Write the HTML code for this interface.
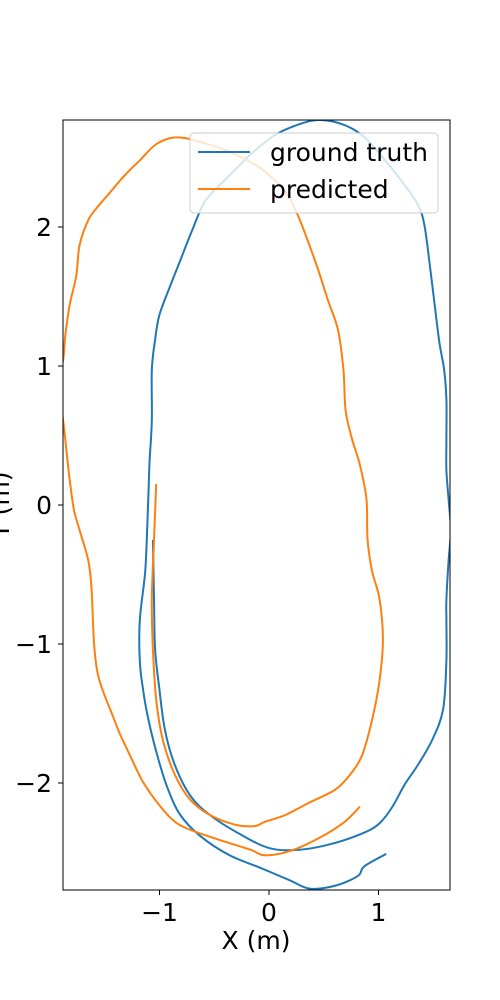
<!DOCTYPE html>
<html><head><meta charset="utf-8"><style>
html,body{margin:0;padding:0;background:#fff;}
svg{display:block;font-family:"DejaVu Sans","Liberation Sans",sans-serif;}
</style></head><body>
<svg id="chart" width="500" height="1000" viewBox="0 0 500 1000" xmlns="http://www.w3.org/2000/svg">
<defs><clipPath id="clip"><rect x="63" y="120" width="387" height="770"/></clipPath></defs>
<rect x="0" y="0" width="500" height="1000" fill="#fff"/>
<g id="series" clip-path="url(#clip)"></g>
<rect x="63" y="120" width="387" height="770" fill="none" stroke="#000" stroke-width="1"/>
<g id="axes"></g>
<text x="256" y="949" font-size="25" text-anchor="middle">X (m)</text>
<text x="0" y="0" font-size="25" text-anchor="middle" transform="translate(9,505) rotate(-90)">Y (m)</text>
<g>
<rect x="190" y="133" width="248" height="80" rx="4" fill="#fff" fill-opacity="0.8" stroke="#ccc"/>
<line x1="198" y1="152" x2="250" y2="152" stroke="#1f77b4" stroke-width="2"/>
<text x="270" y="161" font-size="25">ground truth</text>
<line x1="198" y1="189" x2="250" y2="189" stroke="#ff7f0e" stroke-width="2"/>
<text x="270" y="198" font-size="25">predicted</text>
</g>
</svg>
<script>
const gtX=[-1.06,-1.05,-1.04,-1.00,-0.95,-0.86,-0.72,-0.54,-0.26,0.01,0.28,0.56,0.83,0.995,1.12,1.24,1.36,1.49,1.59,1.62,1.62,1.62,1.64,1.66,1.64,1.62,1.62,1.62,1.60,1.56,1.53,1.48,1.42,1.36,1.24,1.06,0.88,0.70,0.47,0.28,0.05,-0.17,-0.40,-0.58,-0.70,-0.81,-0.90,-1.00,-1.04,-1.07,-1.07,-1.09,-1.10,-1.11,-1.13,-1.18,-1.18,-1.15,-1.10,-1.01,-0.92,-0.81,-0.63,-0.36,-0.08,0.19,0.37,0.60,0.81,0.87,1.07];
const gtY=[-0.25,-0.68,-1.04,-1.33,-1.62,-1.87,-2.09,-2.23,-2.37,-2.47,-2.48,-2.44,-2.37,-2.30,-2.18,-2.01,-1.87,-1.69,-1.47,-1.12,-0.83,-0.68,-0.40,-0.18,0.04,0.25,0.47,0.76,0.97,1.15,1.33,1.65,2.01,2.16,2.30,2.48,2.64,2.73,2.77,2.74,2.66,2.52,2.34,2.19,1.98,1.76,1.58,1.37,1.19,0.97,0.61,0.32,0.11,-0.11,-0.47,-0.83,-1.12,-1.33,-1.55,-1.83,-2.05,-2.23,-2.38,-2.52,-2.61,-2.70,-2.76,-2.74,-2.67,-2.60,-2.51];
const prX=[-1.03,-1.05,-1.07,-1.06,-1.03,-0.97,-0.86,-0.72,-0.54,-0.31,-0.13,-0.04,0.15,0.37,0.60,0.74,0.85,0.94,1.01,1.04,1.01,0.94,0.90,0.89,0.83,0.76,0.70,0.68,0.63,0.54,0.45,0.35,0.26,0.17,0.05,-0.13,-0.36,-0.58,-0.77,-0.90,-1.04,-1.18,-1.32,-1.45,-1.57,-1.65,-1.73,-1.76,-1.82,-1.86,-1.88,-1.93,-1.88,-1.84,-1.82,-1.78,-1.73,-1.65,-1.62,-1.60,-1.57,-1.52,-1.43,-1.36,-1.27,-1.16,-1.04,-0.90,-0.77,-0.49,-0.17,-0.04,0.19,0.47,0.69,0.83];
const prY=[0.15,-0.25,-0.68,-1.04,-1.40,-1.69,-1.94,-2.12,-2.23,-2.30,-2.31,-2.28,-2.23,-2.14,-2.05,-1.94,-1.80,-1.55,-1.26,-0.97,-0.68,-0.47,-0.25,0.04,0.29,0.47,0.68,0.97,1.26,1.47,1.69,1.91,2.09,2.23,2.34,2.45,2.54,2.60,2.64,2.64,2.59,2.48,2.37,2.25,2.14,2.05,1.87,1.65,1.44,1.22,1.04,0.90,0.61,0.32,0.18,-0.04,-0.18,-0.40,-0.61,-0.97,-1.19,-1.33,-1.51,-1.65,-1.80,-1.98,-2.12,-2.25,-2.32,-2.40,-2.48,-2.52,-2.49,-2.39,-2.28,-2.17];
const xTicks=[-1,0,1];
const yTicks=[-2,-1,0,1,2];
const xTickLabels=["\u22121","0","1"];
const yTickLabels=["\u22122","\u22121","0","1","2"];

const NS="http://www.w3.org/2000/svg";
function sx(v){return 269+v*109.5;}
function sy(v){return 505-v*139;}
function line(xs,ys,color,name){
  const P=xs.map((x,i)=>[sx(x),sy(ys[i])]);
  let d="M"+P[0][0].toFixed(1)+","+P[0][1].toFixed(1);
  for(let i=0;i<P.length-1;i++){
    const p0=P[Math.max(i-1,0)],p1=P[i],p2=P[i+1],p3=P[Math.min(i+2,P.length-1)];
    const c1=[p1[0]+(p2[0]-p0[0])/6,p1[1]+(p2[1]-p0[1])/6];
    const c2=[p2[0]-(p3[0]-p1[0])/6,p2[1]-(p3[1]-p1[1])/6];
    d+=" C"+c1.map(v=>v.toFixed(1)).join(",")+" "+c2.map(v=>v.toFixed(1)).join(",")+" "+p2.map(v=>v.toFixed(1)).join(",");
  }
  const p=document.createElementNS(NS,"path");
  p.setAttribute("d",d);
  p.setAttribute("fill","none");p.setAttribute("stroke",color);p.setAttribute("stroke-width","2");
  p.setAttribute("stroke-linejoin","round");
  
  
  document.getElementById("series").appendChild(p);
}
line(gtX,gtY,"#1f77b4","ground-truth-line");
line(prX,prY,"#ff7f0e","predicted-line");
const ax=document.getElementById("axes");
xTicks.forEach((t,i)=>{
  const l=document.createElementNS(NS,"line");
  l.setAttribute("x1",sx(t));l.setAttribute("x2",sx(t));l.setAttribute("y1",890);l.setAttribute("y2",895);l.setAttribute("stroke","#000");
  
  
  ax.appendChild(l);
  const tx=document.createElementNS(NS,"text");
  tx.setAttribute("x",sx(t));tx.setAttribute("y",921);tx.setAttribute("font-size","25");tx.setAttribute("text-anchor","middle");
  tx.textContent=xTickLabels[i];
  
  
  ax.appendChild(tx);
});
yTicks.forEach((t,i)=>{
  const l=document.createElementNS(NS,"line");
  l.setAttribute("x1",58);l.setAttribute("x2",63);l.setAttribute("y1",sy(t));l.setAttribute("y2",sy(t));l.setAttribute("stroke","#000");
  
  
  ax.appendChild(l);
  const tx=document.createElementNS(NS,"text");
  tx.setAttribute("x",52);tx.setAttribute("y",sy(t)+9);tx.setAttribute("font-size","25");tx.setAttribute("text-anchor","end");
  tx.textContent=yTickLabels[i];
  
  
  ax.appendChild(tx);
});
</script>
</body></html>
